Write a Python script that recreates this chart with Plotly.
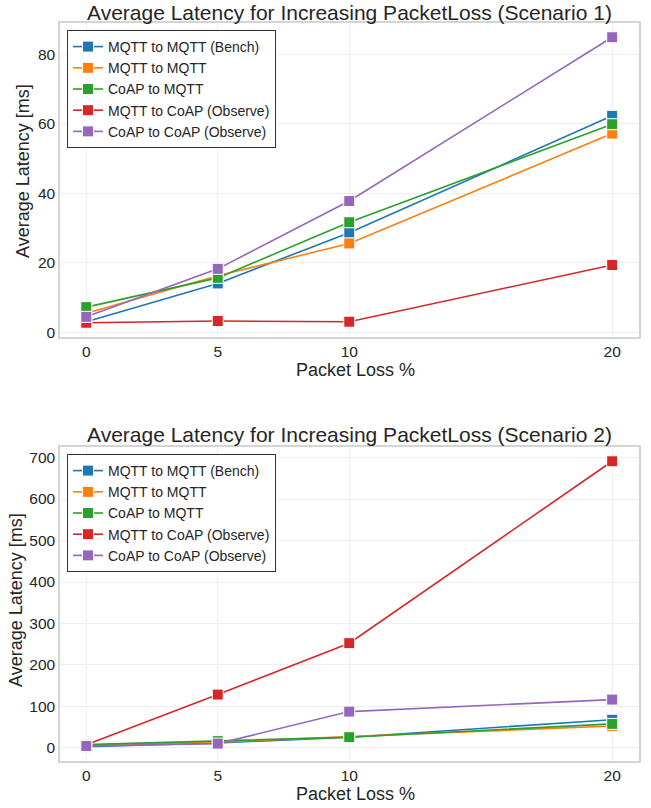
import plotly.graph_objects as go

packet_loss = [0, 5, 10, 20]
series_names = ["MQTT to MQTT (Bench)", "MQTT to MQTT", "CoAP to MQTT",
                "MQTT to CoAP (Observe)", "CoAP to CoAP (Observe)"]
colors = ["#1f77b4", "#ff7f0e", "#2ca02c", "#d62728", "#9467bd"]

# Scenario 1
s1_mqtt_bench = [3.1, 14.1, 28.7, 62.3]
s1_mqtt_mqtt = [5.5, 16.3, 25.6, 57.2]
s1_coap_mqtt = [7.3, 15.7, 31.7, 59.9]
s1_mqtt_coap = [2.8, 3.3, 3.1, 19.4]
s1_coap_coap = [4.5, 18.3, 37.8, 84.9]

# Scenario 2
s2_mqtt_bench = [3.0, 12.0, 26.0, 68.0]
s2_mqtt_mqtt = [6.0, 14.0, 27.5, 53.0]
s2_coap_mqtt = [8.0, 16.5, 26.0, 58.0]
s2_mqtt_coap = [7.5, 128.7, 252.6, 691.0]
s2_coap_coap = [4.8, 10.5, 87.7, 116.6]

scen1 = [s1_mqtt_bench, s1_mqtt_mqtt, s1_coap_mqtt, s1_mqtt_coap, s1_coap_coap]
scen2 = [s2_mqtt_bench, s2_mqtt_mqtt, s2_coap_mqtt, s2_mqtt_coap, s2_coap_coap]

W, H = 651, 808
FONT = "Liberation Sans, Arial, sans-serif"
TXT = "#262626"

fig = go.Figure()

for i, (name, vals) in enumerate(zip(series_names, scen1)):
    fig.add_trace(go.Scatter(
        x=packet_loss, y=vals, name=name, mode="lines+markers",
        line=dict(color=colors[i], width=1.6),
        marker=dict(symbol="square", size=11, color=colors[i],
                    line=dict(color="white", width=1)),
        xaxis="x", yaxis="y", legend="legend"))
for i, (name, vals) in enumerate(zip(series_names, scen2)):
    fig.add_trace(go.Scatter(
        x=packet_loss, y=vals, name=name, mode="lines+markers",
        line=dict(color=colors[i], width=1.6),
        marker=dict(symbol="square", size=11, color=colors[i],
                    line=dict(color="white", width=1)),
        xaxis="x2", yaxis="y2", legend="legend2"))

def px_x(p):
    return p / W

def px_y(p):
    return 1 - p / H

xdom = [px_x(60), px_x(638.5)]
axis_common = dict(
    showline=True, mirror=True, linecolor="#d4d4d4", linewidth=1.5,
    showgrid=True, gridcolor="#efefef", gridwidth=1, automargin=False,
    zeroline=False, ticks="", tickfont=dict(family=FONT, size=15.5, color=TXT),
)

legend_common = dict(
    bgcolor="rgba(255,255,255,0.85)", bordercolor="#333333", borderwidth=1,
    font=dict(family=FONT, size=14, color=TXT), xanchor="left", yanchor="top",
    itemwidth=30, tracegroupgap=0,
)

fig.update_layout(
    width=W, height=H,
    margin=dict(l=0, r=0, t=0, b=0, autoexpand=False),
    paper_bgcolor="white", plot_bgcolor="white",
    font=dict(family=FONT, color=TXT),
    xaxis=dict(domain=xdom, range=[-1, 21], tickvals=packet_loss,
               anchor="y", **axis_common),
    yaxis=dict(domain=[px_y(337), px_y(23)], range=[-1.3, 89.0],
               tickvals=[0, 20, 40, 60, 80], anchor="x", **axis_common),
    xaxis2=dict(domain=xdom, range=[-1, 21], tickvals=packet_loss,
                anchor="y2", **axis_common),
    yaxis2=dict(domain=[px_y(761), px_y(447)], range=[-31.4, 725.4],
                tickvals=[0, 100, 200, 300, 400, 500, 600, 700], anchor="x2",
                **axis_common),
    legend=dict(x=px_x(67), y=px_y(30), **legend_common),
    legend2=dict(x=px_x(67), y=px_y(454), **legend_common),
    showlegend=True,
)

anns = [
    dict(text="Average Latency for Increasing PacketLoss (Scenario 1)",
         x=px_x(349), y=px_y(12), size=21),
    dict(text="Average Latency for Increasing PacketLoss (Scenario 2)",
         x=px_x(349), y=px_y(434), size=21),
    dict(text="Packet Loss %", x=px_x(355), y=px_y(370), size=18),
    dict(text="Packet Loss %", x=px_x(355), y=px_y(794), size=18),
]
for a in anns:
    fig.add_annotation(text=a["text"], x=a["x"], y=a["y"], xref="paper", yref="paper",
                       xanchor="center", yanchor="middle", showarrow=False,
                       font=dict(family=FONT, size=a["size"], color=TXT))
fig.add_annotation(text="Average Latency [ms]", x=px_x(23), y=px_y(171),
                   xref="paper", yref="paper", textangle=-90, showarrow=False,
                   xanchor="center", yanchor="middle",
                   font=dict(family=FONT, size=18, color=TXT))
fig.add_annotation(text="Average Latency [ms]", x=px_x(16), y=px_y(600),
                   xref="paper", yref="paper", textangle=-90, showarrow=False,
                   xanchor="center", yanchor="middle",
                   font=dict(family=FONT, size=18, color=TXT))

fig.write_html(
    "out.html",
    config={"displayModeBar": False},
    post_script="document.body.style.margin='0';document.body.style.overflow='hidden';",
)
